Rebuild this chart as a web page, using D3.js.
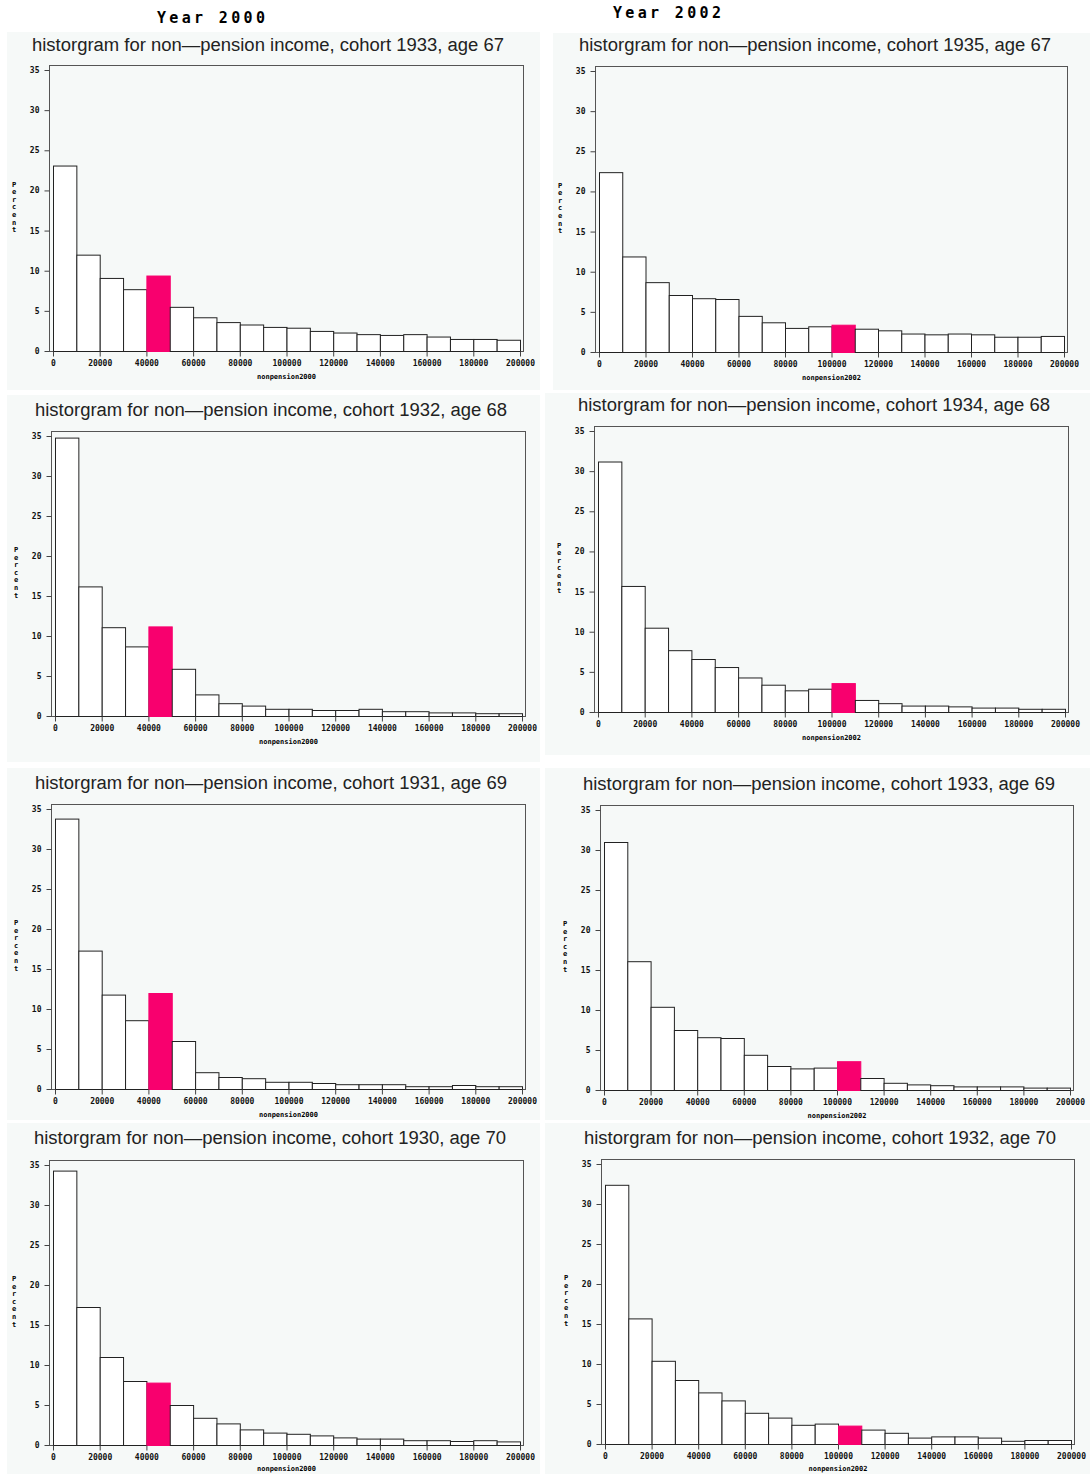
<!DOCTYPE html>
<html>
<head>
<meta charset="utf-8">
<script src="https://cdn.jsdelivr.net/npm/d3@7"></script>
<style>
  body { margin: 0; background: #fff; }
  svg { display: block; }
  .tick text { font-family: "DejaVu Sans Mono", monospace; font-weight: bold; font-size: 8px; fill: #111; }
  .tick line { stroke: #444; }
  .domain { stroke: #444; }
</style>
</head>
<body>
<div id="chart"></div>
<script>
// bins of 10000 from 0 to 200000
var binStarts = d3.range(0, 200000, 10000);
var xTicks = [0, 20000, 40000, 60000, 80000, 100000, 120000, 140000, 160000, 180000, 200000];
var yTicks = [0, 5, 10, 15, 20, 25, 30, 35];

var titles = [
    "historgram for non\u2014pension income, cohort 1933, age 67",
    "historgram for non\u2014pension income, cohort 1935, age 67",
    "historgram for non\u2014pension income, cohort 1932, age 68",
    "historgram for non\u2014pension income, cohort 1934, age 68",
    "historgram for non\u2014pension income, cohort 1931, age 69",
    "historgram for non\u2014pension income, cohort 1933, age 69",
    "historgram for non\u2014pension income, cohort 1930, age 70",
    "historgram for non\u2014pension income, cohort 1932, age 70"
];
var xLabels = ["nonpension2000", "nonpension2002", "nonpension2000", "nonpension2002",
               "nonpension2000", "nonpension2002", "nonpension2000", "nonpension2002"];
// highlighted bin start per panel
var highlightBin = [40000, 100000, 40000, 100000, 40000, 100000, 40000, 100000];

// percent per bin
var pct1933age67 = [23.1, 12.0, 9.1, 7.7, 9.4, 5.5, 4.2, 3.6, 3.3, 3.0, 2.9, 2.5, 2.3, 2.1, 2.0, 2.1, 1.8, 1.5, 1.5, 1.4];
var pct1935age67 = [22.4, 11.9, 8.7, 7.1, 6.7, 6.6, 4.5, 3.7, 3.0, 3.2, 3.4, 2.9, 2.7, 2.3, 2.2, 2.3, 2.2, 1.9, 1.9, 2.0];
var pct1932age68 = [34.8, 16.2, 11.1, 8.7, 11.2, 5.9, 2.7, 1.6, 1.3, 0.9, 0.9, 0.75, 0.75, 0.9, 0.6, 0.6, 0.45, 0.45, 0.35, 0.35];
var pct1934age68 = [31.2, 15.7, 10.5, 7.7, 6.6, 5.6, 4.3, 3.4, 2.7, 2.9, 3.6, 1.5, 1.1, 0.8, 0.8, 0.7, 0.55, 0.55, 0.4, 0.4];
var pct1931age69 = [33.8, 17.3, 11.8, 8.6, 12.0, 6.0, 2.1, 1.5, 1.35, 0.9, 0.9, 0.75, 0.6, 0.6, 0.6, 0.35, 0.35, 0.5, 0.35, 0.35];
var pct1933age69 = [31.0, 16.1, 10.4, 7.5, 6.6, 6.5, 4.4, 3.0, 2.7, 2.8, 3.6, 1.5, 0.9, 0.7, 0.6, 0.45, 0.45, 0.45, 0.3, 0.3];
var pct1930age70 = [34.3, 17.25, 11.0, 8.0, 7.8, 5.0, 3.4, 2.7, 1.95, 1.55, 1.4, 1.2, 0.95, 0.8, 0.8, 0.6, 0.6, 0.5, 0.6, 0.45];
var pct1932age70 = [32.4, 15.7, 10.4, 8.0, 6.45, 5.45, 3.9, 3.3, 2.4, 2.55, 2.3, 1.8, 1.4, 0.8, 0.95, 0.95, 0.8, 0.4, 0.5, 0.5];

var allPct = [pct1933age67, pct1935age67, pct1932age68, pct1934age68,
              pct1931age69, pct1933age69, pct1930age70, pct1932age70];

// where each panel sits on the page
var layout = [
    {bg: [7, 32, 533, 358],   x0: 53,  x1: 520,  y0: 351,  y35: 70,   tx: 268, ty: 51},
    {bg: [553, 33, 537, 357], x0: 599, x1: 1064, y0: 352,  y35: 71,   tx: 815, ty: 51},
    {bg: [7, 395, 533, 367],  x0: 55,  x1: 522,  y0: 716,  y35: 436,  tx: 271, ty: 416},
    {bg: [545, 393, 545, 362],x0: 598, x1: 1065, y0: 712,  y35: 431,  tx: 814, ty: 411},
    {bg: [7, 768, 533, 352],  x0: 55,  x1: 522,  y0: 1089, y35: 809,  tx: 271, ty: 789},
    {bg: [545, 768, 545, 352],x0: 604, x1: 1070, y0: 1090, y35: 810,  tx: 819, ty: 790},
    {bg: [7, 1123, 533, 351], x0: 53,  x1: 520,  y0: 1445, y35: 1165, tx: 270, ty: 1144},
    {bg: [545, 1123, 545, 351],x0: 605, x1: 1071, y0: 1444, y35: 1164, tx: 820, ty: 1144}
];

var svg = d3.select('#chart')
    .append('svg')
    .attr('width', 1090)
    .attr('height', 1474);

// column headers
svg.append('text')
    .attr('x', 157).attr('y', 23)
    .attr('textLength', 108)
    .style('font-family', '"DejaVu Sans Mono", monospace')
    .style('font-weight', 'bold')
    .style('font-size', '15px')
    .text('Year 2000');

svg.append('text')
    .attr('x', 613).attr('y', 18)
    .attr('textLength', 108)
    .style('font-family', '"DejaVu Sans Mono", monospace')
    .style('font-weight', 'bold')
    .style('font-size', '15px')
    .text('Year 2002');

layout.forEach((p, i) => {
    let pct = allPct[i];
    let data = binStarts.map((b, j) => ({start: b, value: pct[j]}));

    let x = d3.scaleLinear().domain([0, 200000]).range([p.x0, p.x1]);
    let y = d3.scaleLinear().domain([0, 35]).range([p.y0, p.y35]);

    let g = svg.append('g').attr('class', 'panel');

    g.append('rect')
        .attr('x', p.bg[0]).attr('y', p.bg[1])
        .attr('width', p.bg[2]).attr('height', p.bg[3])
        .attr('fill', '#f6f9f8');

    // title
    g.append('text')
        .attr('x', p.tx).attr('y', p.ty)
        .attr('text-anchor', 'middle')
        .attr('textLength', 472)
        .attr('lengthAdjust', 'spacingAndGlyphs')
        .style('font-family', '"Liberation Sans", Arial, sans-serif')
        .style('font-size', '18px')
        .style('fill', '#222')
        .text(titles[i]);

    // frame
    let left = p.x0 - 4, right = p.x1 + 3, top = y(35) - 5;
    g.append('rect')
        .attr('x', left + 0.5).attr('y', top + 0.5)
        .attr('width', right - left).attr('height', p.y0 - top)
        .attr('fill', 'none')
        .attr('stroke', '#555');

    // bars
    g.selectAll('rect.bar')
        .data(data)
        .enter().append('rect')
            .attr('class', 'bar')
            .attr('x', (d) => x(d.start) + 0.5)
            .attr('y', (d) => y(d.value) + 0.5)
            .attr('width', (d) => x(d.start + 10000) - x(d.start))
            .attr('height', (d) => y(0) - y(d.value))
            .attr('fill', (d) => d.start === highlightBin[i] ? '#f8006e' : '#fff')
            .attr('stroke', (d) => d.start === highlightBin[i] ? '#f8006e' : '#222')
            .attr('stroke-width', 1);

    // y axis
    let yAxis = d3.axisLeft(y).tickValues(yTicks).tickSize(5).tickPadding(5);
    g.append('g')
        .attr('transform', 'translate(' + (left + 0.5) + ',0)')
        .call(yAxis)
        .call((a) => a.select('.domain').remove());

    // x axis
    let xAxis = d3.axisBottom(x).tickValues(xTicks).tickSize(5).tickPadding(4)
        .tickFormat(d3.format('d'));
    g.append('g')
        .attr('transform', 'translate(0,' + (p.y0 + 0.5) + ')')
        .call(xAxis)
        .call((a) => a.select('.domain').remove());

    g.append('text')
        .attr('x', (p.x0 + p.x1) / 2)
        .attr('y', Math.min(p.y0 + 28, 1471))
        .attr('text-anchor', 'middle')
        .style('font-family', '"DejaVu Sans Mono", monospace')
        .style('font-weight', 'bold')
        .style('font-size', '7px')
        .text(xLabels[i]);

    // stacked "Percent" label
    let midY = (p.y0 + y(35)) / 2;
    let letters = 'Percent'.split('');
    g.append('g').selectAll('text')
        .data(letters)
        .enter().append('text')
            .attr('x', left - 35)
            .attr('y', (d, k) => midY - 24 + k * 7.6)
            .attr('text-anchor', 'middle')
            .style('font-family', '"DejaVu Sans Mono", monospace')
            .style('font-weight', 'bold')
            .style('font-size', '7px')
            .text((d) => d);
});
</script>
</body>
</html>
